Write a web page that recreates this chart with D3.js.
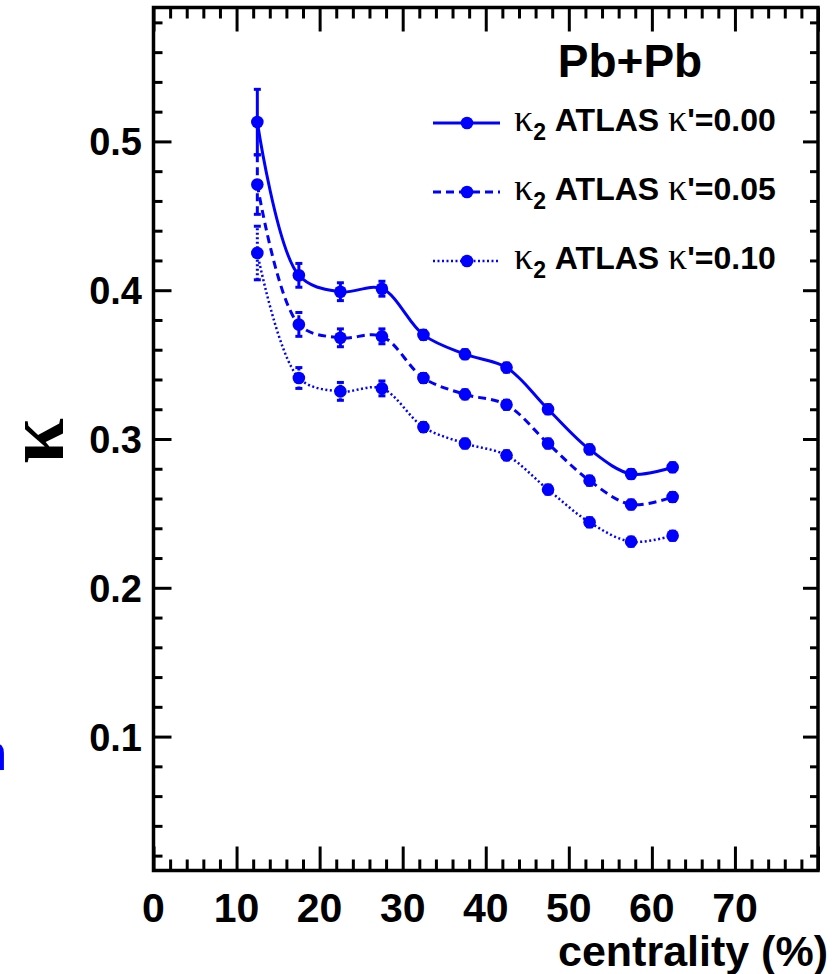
<!DOCTYPE html>
<html>
<head>
<meta charset="utf-8">
<script src="https://cdn.jsdelivr.net/npm/d3@7"></script>
<style>
  html, body { margin: 0; padding: 0; background: #fff; }
  svg { display: block; }
</style>
</head>
<body>
<svg id="chart" width="833" height="974"></svg>
<script>
// ---- data ----
const centrality = [12.5, 17.5, 22.5, 27.5, 32.5, 37.5, 42.5, 47.5, 52.5, 57.5, 62.5];
const kappa000 = [0.513, 0.410, 0.399, 0.401, 0.370, 0.357, 0.348, 0.320, 0.293, 0.2765, 0.281];
const kappa005 = [0.471, 0.377, 0.368, 0.369, 0.341, 0.330, 0.323, 0.297, 0.272, 0.256, 0.261];
const kappa010 = [0.425, 0.341, 0.332, 0.334, 0.308, 0.297, 0.289, 0.266, 0.244, 0.231, 0.235];
const err000 = [0.022, 0.008, 0.006, 0.005, 0.003, 0.003, 0.003, 0.003, 0.003, 0.003, 0.003];
const err005 = [0.020, 0.008, 0.006, 0.005, 0.003, 0.003, 0.003, 0.003, 0.003, 0.003, 0.003];
const err010 = [0.018, 0.007, 0.006, 0.005, 0.003, 0.003, 0.003, 0.003, 0.003, 0.003, 0.003];
const seriesNames = ["0.00", "0.05", "0.10"];
const xTickLabels = [0, 10, 20, 30, 40, 50, 60, 70];
const yTickLabels = [0.1, 0.2, 0.3, 0.4, 0.5];

const svg = d3.select("#chart");
const BLUE = "#0000ff";
const SANS = "'Liberation Sans', Arial, Helvetica, sans-serif";
const SERIF = "'Liberation Serif', 'Times New Roman', serif";

const L = 153.5, R = 818, T = 7.5, B = 870.5;
const x = d3.scaleLinear().domain([0, 80]).range([L, R]);
const y = d3.scaleLinear().domain([0.01, 0.59]).range([B, T]);

// ---- axes (ticks on all four sides, pointing inward) ----
const xMinor = d3.range(0, 81, 2);
const yMinor = d3.range(0.02, 0.59, 0.02).map(v => +v.toFixed(2));
const isXMajor = v => v % 10 === 0;
const isYMajor = v => Math.abs(Math.round(v * 10) - v * 10) < 1e-6;

const gB = svg.append("g").attr("transform", `translate(0,${B})`)
  .call(d3.axisBottom(x).tickValues(xMinor).tickSizeInner(0).tickSizeOuter(0).tickFormat(""));
gB.selectAll(".tick line").attr("y2", d => isXMajor(d) ? -24 : -11)
  .attr("stroke", "#000").attr("stroke-width", 3);
gB.select(".domain").remove();

const gT = svg.append("g").attr("transform", `translate(0,${T})`)
  .call(d3.axisTop(x).tickValues(xMinor).tickSizeInner(0).tickSizeOuter(0).tickFormat(""));
gT.selectAll(".tick line").attr("y2", d => isXMajor(d) ? 24 : 11)
  .attr("stroke", "#000").attr("stroke-width", 3);
gT.select(".domain").remove();

const gL = svg.append("g").attr("transform", `translate(${L},0)`)
  .call(d3.axisLeft(y).tickValues(yMinor).tickSizeInner(0).tickSizeOuter(0).tickFormat(""));
gL.selectAll(".tick line").attr("x2", d => isYMajor(d) ? 18 : 9)
  .attr("stroke", "#000").attr("stroke-width", 3);
gL.select(".domain").remove();

const gR = svg.append("g").attr("transform", `translate(${R},0)`)
  .call(d3.axisRight(y).tickValues(yMinor).tickSizeInner(0).tickSizeOuter(0).tickFormat(""));
gR.selectAll(".tick line").attr("x2", d => isYMajor(d) ? -15 : -8)
  .attr("stroke", "#000").attr("stroke-width", 3);
gR.select(".domain").remove();

// frame
svg.append("rect").attr("x", L).attr("y", T).attr("width", R - L).attr("height", B - T)
  .attr("fill", "none").attr("stroke", "#000").attr("stroke-width", 3.5);

// tick labels
svg.append("g").selectAll("text").data(xTickLabels).join("text")
  .attr("x", d => x(d)).attr("y", 922)
  .attr("text-anchor", "middle")
  .attr("font-family", SANS).attr("font-weight", "bold").attr("font-size", 41)
  .text(d => d);

svg.append("g").selectAll("text").data(yTickLabels).join("text")
  .attr("x", 142).attr("y", d => y(d) + 14)
  .attr("text-anchor", "end")
  .attr("font-family", SANS).attr("font-weight", "bold").attr("font-size", 38)
  .text(d => d.toFixed(1));

// axis titles
svg.append("text").attr("x", 828).attr("y", 966).attr("text-anchor", "end")
  .attr("font-family", SANS).attr("font-weight", "bold").attr("font-size", 43)
  .text("centrality (%)");

svg.append("text").attr("transform", "translate(63,441) rotate(-90)")
  .attr("text-anchor", "middle")
  .attr("font-family", SERIF).attr("font-weight", "bold").attr("font-size", 82)
  .text("κ");

// stray blue glyph cut by the left edge
svg.append("text").attr("x", 7).attr("y", 770).attr("text-anchor", "end")
  .attr("font-family", SANS).attr("font-weight", "bold").attr("font-size", 50)
  .attr("fill", BLUE).text("n");

// ---- series ----
const series = [
  { name: seriesNames[0], vals: kappa000, errs: err000, dash: null, lw: 3 },
  { name: seriesNames[1], vals: kappa005, errs: err005, dash: "8,5", lw: 3 },
  { name: seriesNames[2], vals: kappa010, errs: err010, dash: "2,2.5", lw: 2.5 }
];

const line = d3.line().x(d => x(d[0])).y(d => y(d[1])).curve(d3.curveCatmullRom.alpha(0.5));

series.forEach(s => {
  const pts = centrality.map((c, i) => [c, s.vals[i], s.errs[i]]);
  const g = svg.append("g");
  g.append("path").datum(pts).attr("d", line)
    .attr("fill", "none").attr("stroke", BLUE).attr("stroke-width", s.lw)
    .attr("stroke-dasharray", s.dash);
  // error bars
  g.selectAll("line.err").data(pts).join("line").attr("class", "err")
    .attr("x1", d => x(d[0])).attr("x2", d => x(d[0]))
    .attr("y1", d => y(d[1] - d[2])).attr("y2", d => y(d[1] + d[2]))
    .attr("stroke", BLUE).attr("stroke-width", 3)
    .attr("stroke-dasharray", s.dash);
  g.selectAll("line.capt").data(pts).join("line").attr("class", "capt")
    .attr("x1", d => x(d[0]) - 3.5).attr("x2", d => x(d[0]) + 3.5)
    .attr("y1", d => y(d[1] + d[2])).attr("y2", d => y(d[1] + d[2]))
    .attr("stroke", BLUE).attr("stroke-width", 3);
  g.selectAll("line.capb").data(pts).join("line").attr("class", "capb")
    .attr("x1", d => x(d[0]) - 3.5).attr("x2", d => x(d[0]) + 3.5)
    .attr("y1", d => y(d[1] - d[2])).attr("y2", d => y(d[1] - d[2]))
    .attr("stroke", BLUE).attr("stroke-width", 3);
  g.selectAll("circle").data(pts).join("circle")
    .attr("cx", d => x(d[0])).attr("cy", d => y(d[1])).attr("r", 6.3)
    .attr("fill", BLUE);
});

// ---- legend ----
svg.append("text").attr("x", 630).attr("y", 77).attr("text-anchor", "middle")
  .attr("font-family", SANS).attr("font-weight", "bold").attr("font-size", 46)
  .text("Pb+Pb");

const legY = [123, 192, 261];
series.forEach((s, i) => {
  const yy = legY[i];
  svg.append("line").attr("x1", 433).attr("x2", 500).attr("y1", yy).attr("y2", yy)
    .attr("stroke", BLUE).attr("stroke-width", s.lw).attr("stroke-dasharray", s.dash);
  svg.append("circle").attr("cx", 467).attr("cy", yy).attr("r", 6.3).attr("fill", BLUE);
  const t = svg.append("text").attr("x", 514).attr("y", yy + 8)
    .attr("font-family", SANS).attr("font-weight", "bold").attr("font-size", 32);
  t.append("tspan").attr("font-family", SERIF).attr("font-weight", "normal").attr("font-size", 38).text("κ");
  t.append("tspan").attr("font-size", 23).attr("dy", 9).text("2");
  t.append("tspan").attr("dy", -9).text(" ATLAS ");
  t.append("tspan").attr("font-family", SERIF).attr("font-weight", "normal").attr("font-size", 38).text("κ");
  t.append("tspan").text("'=" + s.name);
});
</script>
</body>
</html>
